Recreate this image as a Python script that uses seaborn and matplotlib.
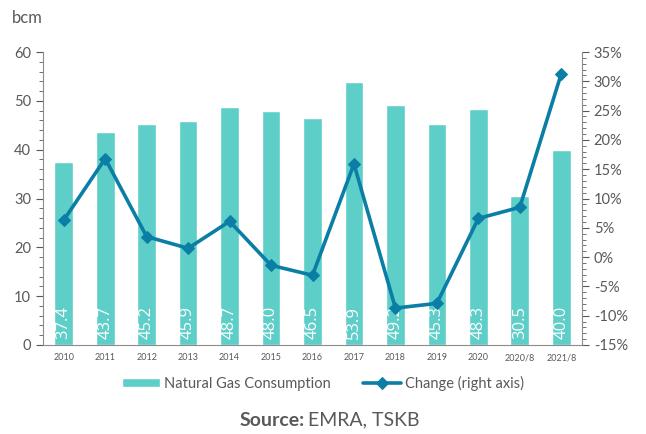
import matplotlib.pyplot as plt
import matplotlib.ticker as mticker
import seaborn as sns
import pandas as pd

periods = ['2010', '2011', '2012', '2013', '2014', '2015', '2016', '2017',
           '2018', '2019', '2020', '2020/8', '2021/8']
consumption = [37.4, 43.7, 45.2, 45.9, 48.7, 48.0, 46.5, 53.9, 49.2, 45.3, 48.3, 30.5, 40.0]
change_pct = [6.3, 16.8, 3.5, 1.5, 6.1, -1.4, -3.1, 15.9, -8.7, -7.9, 6.6, 8.5, 31.3]

df = pd.DataFrame({'period': periods, 'consumption': consumption, 'change': change_pct})

sns.set_style('white')
plt.rcParams['font.family'] = ['Lato', 'DejaVu Sans']
grey = '#595959'
bar_c = '#5ECEC8'
line_c = '#0B7EA6'

fig = plt.figure(figsize=(6.46, 4.34), dpi=100)
ax = fig.add_axes([43 / 646, 1 - 345 / 434, (582 - 43) / 646, (345 - 52) / 434])

sns.barplot(data=df, x='period', y='consumption', color=bar_c, width=0.45,
            saturation=1, ax=ax, label='Natural Gas Consumption', legend=False)
for i, v in enumerate(consumption):
    ax.text(i, 1.3, f'{v:.1f}', rotation=90, ha='center', va='bottom',
            color='white', fontsize=12, family=['Open Sans', 'DejaVu Sans'])

ax.set_ylim(0, 60)
ax.set_xlim(-0.5, len(periods) - 0.5)
ax.yaxis.set_major_locator(mticker.MultipleLocator(10))
ax.yaxis.set_minor_locator(mticker.MultipleLocator(2))
ax.tick_params(axis='y', which='major', length=5, labelsize=10.5, colors=grey, direction='out', left=True)
ax.tick_params(axis='y', which='minor', length=3, color=grey, left=True)
ax.tick_params(axis='x', labelsize=6.5, colors=grey, length=0, pad=6)
ax.set_xlabel('')
ax.set_ylabel('')
for s in ['top', 'right']:
    ax.spines[s].set_visible(False)
for s in ['left', 'bottom']:
    ax.spines[s].set_color('#8c8c8c')

ax2 = ax.twinx()
sns.lineplot(data=df, x='period', y='change', sort=False, color=line_c, linewidth=2.6,
             marker='D', markersize=6.5, markeredgecolor=line_c, ax=ax2,
             label='Change (right axis)')
ax2.set_ylim(-15, 35)
ax2.yaxis.set_major_locator(mticker.MultipleLocator(5))
ax2.yaxis.set_minor_locator(mticker.MultipleLocator(1))
ax2.yaxis.set_major_formatter(mticker.FuncFormatter(lambda v, p: f'{v:.0f}%'))
ax2.tick_params(axis='y', which='major', length=5, labelsize=10.5, colors=grey, right=True)
ax2.tick_params(axis='y', which='minor', length=3, color=grey, right=True)
ax2.set_ylabel('')
for s in ['top', 'left', 'bottom']:
    ax2.spines[s].set_visible(False)
ax2.spines['right'].set_color('#8c8c8c')
if ax2.get_legend() is not None:
    ax2.get_legend().remove()

h1, l1 = ax.get_legend_handles_labels()
h2, l2 = ax2.get_legend_handles_labels()
fig.legend(h1 + h2, l1 + l2, loc='center', bbox_to_anchor=(0.5, 1 - 383 / 434), ncol=2,
           frameon=False, fontsize=10.5, labelcolor=grey, handlelength=2.6,
           handleheight=0.5, handletextpad=0.3, columnspacing=2.2)

fig.text(12 / 646, 1 - 18 / 434, 'bcm', fontsize=12, color=grey, va='center')
fig.text(0.471, 1 - 420 / 434, 'Source:', fontsize=14, color=grey, weight='bold',
         ha='right', va='center')
fig.text(0.477, 1 - 420 / 434, 'EMRA, TSKB', fontsize=14, color=grey,
         ha='left', va='center')

plt.savefig('out.png', dpi=100)
